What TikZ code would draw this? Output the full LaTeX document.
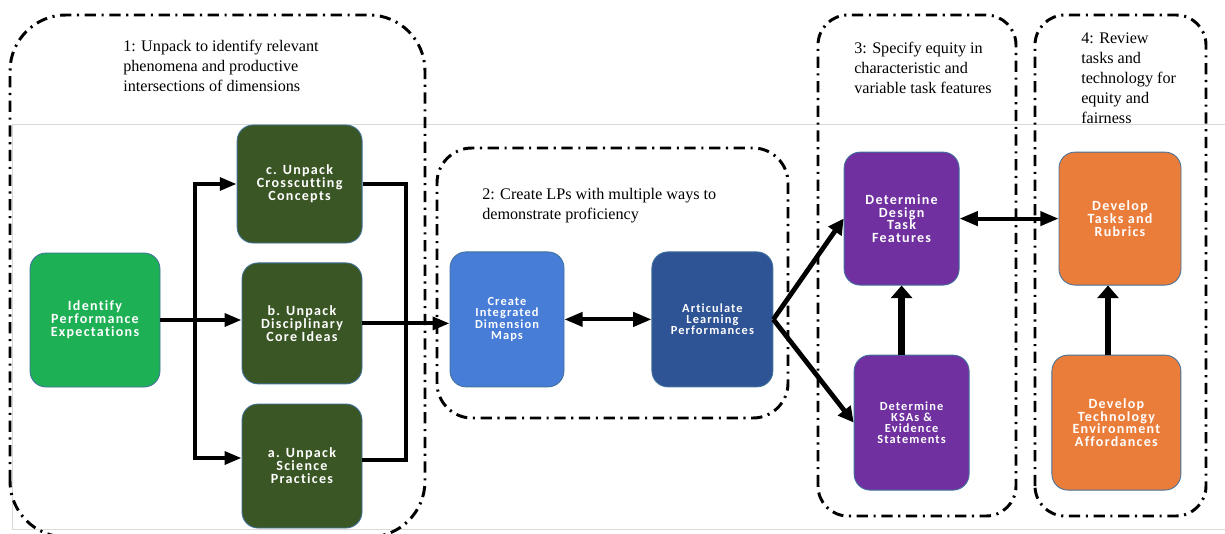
\documentclass[tikz,border=0pt]{standalone}
\usepackage{fontspec}
\setmainfont{Liberation Serif}
\newfontfamily\boxfont[LetterSpace=9, Ligatures=NoCommon]{Carlito}
\usetikzlibrary{arrows.meta, positioning}
\definecolor{pegreen}{RGB}{29,176,84}
\definecolor{unpackgreen}{RGB}{59,86,37}
\definecolor{mapblue}{RGB}{71,125,214}
\definecolor{lpblue}{RGB}{47,84,150}
\definecolor{taskpurple}{RGB}{112,48,160}
\definecolor{techorange}{RGB}{235,125,59}
\definecolor{boxedge}{RGB}{65,113,156}

\begin{document}
\begin{tikzpicture}[box/.style={draw=boxedge, line width=0.6pt, rounded corners=0.4cm, text=white, align=center, inner sep=1pt, font=\boxfont\bfseries\fontsize{10}{9.2}\selectfont},
 smallbox/.style={box, font=\boxfont\bfseries\fontsize{8.8}{8}\selectfont},
 phase/.style={draw, line width=2.1pt, dash pattern=on 8pt off 4pt on 1.5pt off 4pt},
 phasetitle/.style={align=left, anchor=west, inner sep=0pt, font=\fontsize{11.5}{14.2}\selectfont},
 link/.style={line width=2.8pt},
 arr/.style={link, -{Triangle[length=12pt, width=9pt]}},
 dblarr/.style={line width=2.8pt, {Triangle[length=13pt, width=10pt]}-{Triangle[length=13pt, width=10pt]}},
 fatarr/.style={line width=3.4pt, -{Triangle[length=11pt, width=11pt]}},
 uparr/.style={line width=4.5pt, -{Triangle[length=9pt, width=15pt]}}]
 \useasboundingbox (0,0) rectangle (30.625,13.325);
 \draw[black!15, line width=0.6pt] (30.625,10.225) -- (0.3,10.225) -- (0.3,0.1) -- (30.625,0.1);
 \draw[phase, rounded corners=1.4cm] (0.25,-0.1) rectangle (10.625,12.95);
 \draw[phase, rounded corners=0.875cm] (10.925,2.875) rectangle (19.7,9.625);
 \draw[phase, rounded corners=0.75cm] (20.45,0.425) rectangle (25.4,12.95);
 \draw[phase, rounded corners=0.75cm] (25.875,0.425) rectangle (30.15,12.95);
 \node[phasetitle] (t1) at (3.075,11.675) {1: Unpack to identify relevant\\phenomena and productive\\intersections of dimensions};
 \node[phasetitle] (t2) at (12.05,8.19) {2: Create LPs with multiple ways to\\demonstrate proficiency};
 \node[phasetitle] (t3) at (21.35,11.625) {3: Specify equity in\\characteristic and\\variable task features};
 \node[phasetitle] (t4) at (27.025,11.375) {4: Review\\tasks and\\technology for\\equity and\\fairness};
 \node[box, fill=pegreen, minimum width=3.25cm, minimum height=3.35cm] (pe) at (2.375,5.325) {Identify\\Performance\\Expectations};
 \node[box, fill=unpackgreen, minimum width=3.125cm, minimum height=2.95cm] (ccc) at (7.49,8.725) {c. Unpack\\Crosscutting\\Concepts};
 \node[box, fill=unpackgreen, minimum width=3cm, minimum height=3.025cm] (dci) at (7.55,5.24) {b. Unpack\\Disciplinary\\Core Ideas};
 \node[box, fill=unpackgreen, minimum width=3cm, minimum height=3.1cm] (sep) at (7.55,1.675) {a. Unpack\\Science\\Practices};
 \node[smallbox, fill=mapblue, minimum width=2.85cm, minimum height=3.375cm] (idm) at (12.675,5.34) {Create\\Integrated\\Dimension\\Maps};
 \node[smallbox, fill=lpblue, minimum width=3.025cm, minimum height=3.375cm] (alp) at (17.81,5.34) {Articulate\\Learning\\Performances};
 \node[box, fill=taskpurple, minimum width=2.875cm, minimum height=3.325cm] (dtf) at (22.54,7.86) {Determine\\Design\\Task\\Features};
 \node[smallbox, fill=taskpurple, minimum width=2.875cm, minimum height=3.375cm] (ksa) at (22.79,2.76) {Determine\\KSAs \&\\Evidence\\Statements};
 \node[box, fill=techorange, minimum width=3.05cm, minimum height=3.325cm] (dtr) at (28.0,7.86) {Develop\\Tasks and\\Rubrics};
 \node[box, fill=techorange, minimum width=3.225cm, minimum height=3.375cm] (tea) at (27.91,2.76) {Develop\\Technology\\Environment\\Affordances};
 \coordinate (br) at (4.875,5.325);
 \coordinate (jn) at (10.15,5.325);
 \draw[arr] (pe.east) -- (pe.east -| dci.west);
 \draw[arr] (br) |- (ccc.west);
 \draw[arr] (br) |- ([yshift=2mm]sep.west);
 \draw[link] (ccc.east) -| (jn);
 \draw[link] ([yshift=1.5mm]sep.east) -| (jn);
 \draw[arr] (dci.east) -- (dci.east -| idm.west);
 \draw[dblarr] (idm.east) -- (alp.west);
 \draw[fatarr] (alp.east) -- (dtf.west);
 \draw[fatarr] (alp.east) -- (ksa.west);
 \draw[uparr] (dtf.south |- ksa.north) -- (dtf.south);
 \draw[dblarr] (dtf.east) -- (dtr.west);
 \draw[uparr] ([xshift=-2.1mm]tea.north) -- ([xshift=-2.1mm]tea.north |- dtr.south);
\end{tikzpicture}
\end{document}
